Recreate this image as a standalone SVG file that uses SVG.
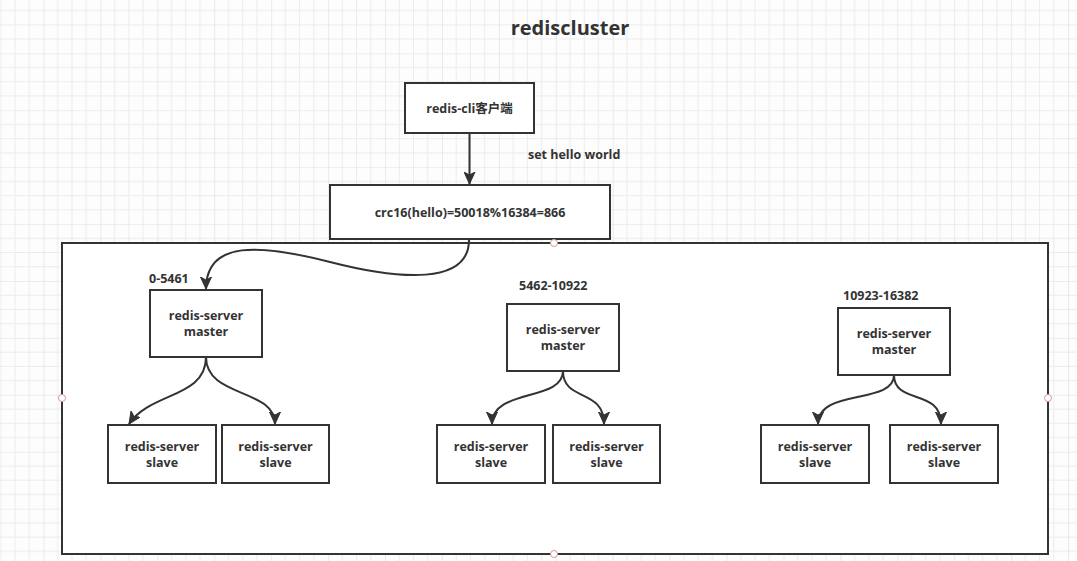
<svg xmlns="http://www.w3.org/2000/svg" width="1077" height="561" viewBox="0 0 1077 561">
<style>
.box{fill:#fff;stroke:#333;stroke-width:2}
.t{font-family:"Open Sans","Noto Sans CJK SC",sans-serif;font-weight:700;font-size:12.5px;fill:#333;text-anchor:middle}
.lbl{font-family:"Open Sans","Noto Sans CJK SC",sans-serif;font-weight:700;font-size:12.5px;fill:#333}
.edge{fill:none;stroke:#333;stroke-width:2}
.handle{fill:#fff;stroke:#d49a9a;stroke-width:1}
</style>
<defs>
<pattern id="grid" patternUnits="userSpaceOnUse" x="43.5" y="53.3" width="56.92" height="56.92">
<path d="M14.23 0V56.92M28.46 0V56.92M42.69 0V56.92M0 14.23H56.92M0 28.46H56.92M0 42.69H56.92" stroke="#ececec" stroke-width="1" fill="none"/>
<path d="M0 0V56.92M0 0H56.92" stroke="#dedede" stroke-width="1.2" fill="none"/>
</pattern>
<marker id="arr" markerUnits="userSpaceOnUse" markerWidth="14" markerHeight="12" viewBox="0 0 14 12" refX="12" refY="6" orient="auto">
<path d="M0,0.5 L12,6 L0,11.5 L3,6 Z" fill="#333" stroke="#333" stroke-width="1"/>
</marker>
</defs>
<rect width="1077" height="561" fill="#fdfdfd"/>
<rect width="1077" height="561" fill="url(#grid)"/>

<text x="570" y="35" style="font-family:'Open Sans',sans-serif;font-weight:700;font-size:20px;fill:#333;text-anchor:middle">rediscluster</text>

<g id="cluster">
<rect class="box" x="62" y="243" width="986" height="311"/>
</g>

<g id="client">
<rect class="box" x="405" y="83" width="129" height="50"/>
<text class="t" x="469.5" y="113">redis-cli客户端</text>
</g>

<g id="hash">
<rect class="box" x="330" y="185" width="280" height="54"/>
<text class="t" x="470" y="217">crc16(hello)=50018%16384=866</text>
</g>

<g id="master1">
<rect class="box" x="150" y="290" width="112" height="67"/>
<text class="t" x="206" y="320">redis-server</text>
<text class="t" x="206" y="336">master</text>
</g>
<g id="slave1a">
<rect class="box" x="108" y="425" width="108" height="58"/>
<text class="t" x="162" y="451">redis-server</text>
<text class="t" x="162" y="467">slave</text>
</g>
<g id="slave1b">
<rect class="box" x="222" y="425" width="107" height="58"/>
<text class="t" x="275.5" y="451">redis-server</text>
<text class="t" x="275.5" y="467">slave</text>
</g>

<g id="master2">
<rect class="box" x="507" y="304" width="112" height="67"/>
<text class="t" x="563" y="334">redis-server</text>
<text class="t" x="563" y="350">master</text>
</g>
<g id="slave2a">
<rect class="box" x="437" y="425" width="108" height="58"/>
<text class="t" x="491" y="451">redis-server</text>
<text class="t" x="491" y="467">slave</text>
</g>
<g id="slave2b">
<rect class="box" x="553" y="425" width="107" height="58"/>
<text class="t" x="606.5" y="451">redis-server</text>
<text class="t" x="606.5" y="467">slave</text>
</g>

<g id="master3">
<rect class="box" x="838" y="308" width="112" height="67"/>
<text class="t" x="894" y="338">redis-server</text>
<text class="t" x="894" y="354">master</text>
</g>
<g id="slave3a">
<rect class="box" x="761" y="425" width="108" height="58"/>
<text class="t" x="815" y="451">redis-server</text>
<text class="t" x="815" y="467">slave</text>
</g>
<g id="slave3b">
<rect class="box" x="890" y="425" width="108" height="58"/>
<text class="t" x="944" y="451">redis-server</text>
<text class="t" x="944" y="467">slave</text>
</g>

<g id="labels">
<text class="lbl" x="528" y="159">set hello world</text>
<text class="lbl" x="149" y="283">0-5461</text>
<text class="lbl" x="519" y="290">5462-10922</text>
<text class="lbl" x="843" y="300">10923-16382</text>
</g>

<g id="connectors">
<path class="edge" d="M469.5,133 L469.5,184" marker-end="url(#arr)"/>
<path class="edge" d="M469,240 C469,285 400,280 330,262 C260,244 206,240 206,289" marker-end="url(#arr)"/>
<path class="edge" d="M206,357 C206,398 150,392 129,424" marker-end="url(#arr)"/>
<path class="edge" d="M206,357 C206,398 275,388 275,424" marker-end="url(#arr)"/>
<path class="edge" d="M563,371 C563,402 492,388 492,424" marker-end="url(#arr)"/>
<path class="edge" d="M563,371 C563,402 604,388 604,424" marker-end="url(#arr)"/>
<path class="edge" d="M894,375 C894,405 818,388 818,424" marker-end="url(#arr)"/>
<path class="edge" d="M894,375 C894,405 941,388 941,424" marker-end="url(#arr)"/>
</g>

<g id="handles">
<circle class="handle" cx="554" cy="243" r="3.5"/>
<circle class="handle" cx="62" cy="398" r="3.5"/>
<circle class="handle" cx="1048" cy="398" r="3.5"/>
<circle class="handle" cx="554" cy="554" r="3.5"/>
</g>
</svg>
